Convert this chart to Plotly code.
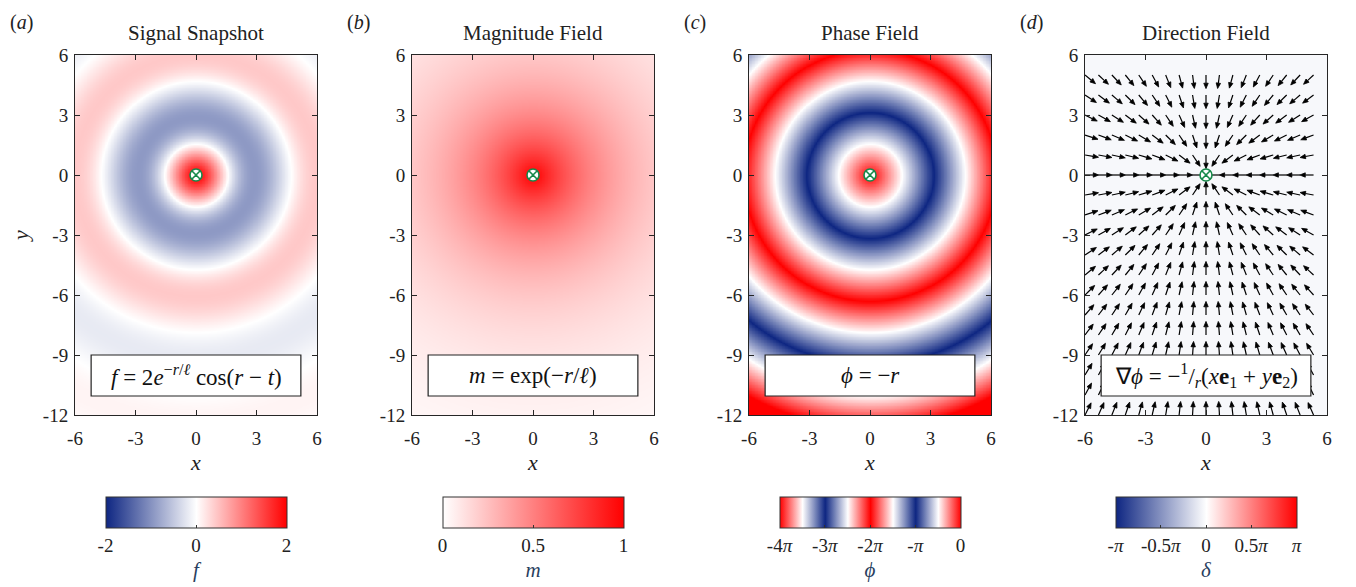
import numpy as np
import plotly.graph_objects as go

# ---------------- data / parameters ----------------
ell = 4.0          # decay length
t_now = 0.0        # snapshot time
amp = 2.0          # signal amplitude
x_grid = np.linspace(-6, 6, 161)
y_grid = np.linspace(-12, 6, 241)
quiver_x = -6 + (2 / 3) * np.arange(18)
quiver_y = -12 + 1.0 * np.arange(18)
delta_level = -0.1   # near-zero direction residual (rad)
panel_titles = ["Signal Snapshot", "Magnitude Field", "Phase Field", "Direction Field"]
panel_tags = ["a", "b", "c", "d"]
equations = [
    "<i>f</i> = 2<i>e</i><sup>−<i>r</i>/<i>ℓ</i></sup> cos(<i>r</i> − <i>t</i>)",
    "<i>m</i> = exp(−<i>r</i>/<i>ℓ</i>)",
    "<i>ϕ</i> = −<i>r</i>",
    "∇<i>ϕ</i> = −<sup>1</sup>/<sub><i>r</i></sub>(<i>x</i><b>e</b><sub>1</sub> + <i>y</i><b>e</b><sub>2</sub>)",
]
cb_titles = ["<i>f</i>", "<i>m</i>", "<i>ϕ</i>", "<i>δ</i>"]
xticks = [-6, -3, 0, 3, 6]
yticks = [-12, -9, -6, -3, 0, 3, 6]

# ---------------- fields ----------------
X, Y = np.meshgrid(x_grid, y_grid)
R = np.hypot(X, Y)
f_field = amp * np.exp(-R / ell) * np.cos(R - t_now)
m_field = np.exp(-R / ell)
phi_field = -R
delta_field = np.full((3, 3), delta_level)

# ---------------- styling ----------------
W, H = 1356, 587
OFF = 8                      # page body margin
Wc, Hc = W - OFF, H - OFF
FONT = "Liberation Serif"
BLUE = np.array([14, 38, 130])
WHITE = np.array([255, 255, 255])
RED = np.array([255, 0, 0])


def bwr(s):
    s = float(np.clip(s, 0, 1))
    if s < 0.5:
        c = BLUE + (WHITE - BLUE) * (s / 0.5)
    else:
        c = WHITE + (RED - WHITE) * ((s - 0.5) / 0.5)
    return "rgb(%d,%d,%d)" % tuple(np.round(c).astype(int))


bwr_scale = [[0, bwr(0)], [0.5, bwr(0.5)], [1, bwr(1)]]
wr_scale = [[0, "rgb(255,255,255)"], [1, "rgb(255,0,0)"]]
phase_scale = []
for s in np.linspace(0, 1, 161):
    ph = -4 * np.pi + s * 4 * np.pi
    m = np.mod(ph, 2 * np.pi)
    d = min(m, 2 * np.pi - m)
    phase_scale.append([float(s), bwr(1 - d / np.pi)])

axes_px = [(75, 317), (412, 654), (749, 991), (1085, 1327)]
top_px, bot_px = 55, 415


def px_x(p):
    return (p - OFF) / Wc


def px_y(p):
    return 1 - (p - OFF) / Hc


fig = go.Figure()

cb_common = dict(
    orientation="h", lenmode="pixels", len=181, thicknessmode="pixels", thickness=31,
    xanchor="center", yanchor="top", y=px_y(497), xpad=0, ypad=0,
    outlinewidth=1, outlinecolor="#333333",
    ticks="inside", ticklen=3, tickcolor="#333333",
    tickfont=dict(family=FONT, size=19, color="#222222"),
)

fields = [f_field, m_field, phi_field]
scales = [bwr_scale, wr_scale, phase_scale]
zr = [(-2, 2), (0, 1), (-4 * np.pi, 0)]
cb_tickvals = [[-2, 0, 2], [0, 0.5, 1], [-4 * np.pi, -3 * np.pi, -2 * np.pi, -np.pi, 0],
               [-np.pi, -0.5 * np.pi, 0, 0.5 * np.pi, np.pi]]
cb_ticktext = [["-2", "0", "2"], ["0", "0.5", "1"],
               ["-4<i>π</i>", "-3<i>π</i>", "-2<i>π</i>", "-<i>π</i>", "0"],
               ["-<i>π</i>", "-0.5<i>π</i>", "0", "0.5<i>π</i>", "<i>π</i>"]]

for i in range(4):
    xa = "x" if i == 0 else f"x{i+1}"
    ya = "y" if i == 0 else f"y{i+1}"
    cx = (axes_px[i][0] + axes_px[i][1]) / 2
    cb = dict(cb_common, x=px_x(cx), tickvals=cb_tickvals[i], ticktext=cb_ticktext[i],
              title=dict(text=cb_titles[i], side="bottom", font=dict(family=FONT, size=21)))
    if i < 3:
        fig.add_trace(go.Heatmap(x=x_grid, y=y_grid, z=fields[i], colorscale=scales[i],
                                 zmin=zr[i][0], zmax=zr[i][1], zsmooth="best",
                                 colorbar=cb, xaxis=xa, yaxis=ya, hoverinfo="skip"))
    else:
        fig.add_trace(go.Heatmap(x=[-6, 0, 6], y=[-12, -3, 6], z=delta_field,
                                 colorscale=bwr_scale, zmin=-np.pi, zmax=np.pi,
                                 colorbar=cb, xaxis=xa, yaxis=ya, hoverinfo="skip"))

# ---------------- quiver (panel d) ----------------
QX, QY = np.meshgrid(quiver_x, quiver_y)
QX, QY = QX.ravel(), QY.ravel()
QR = np.hypot(QX, QY)
mask = QR > 1e-9
QX, QY, QR = QX[mask], QY[mask], QR[mask]
U, V = -QX / QR, -QY / QR
L = 0.68
hl, hw = 0.27, 0.11
shaft_x, shaft_y, head_x, head_y = [], [], [], []
for x0, y0, u, v in zip(QX, QY, U, V):
    x1, y1 = x0 + u * L, y0 + v * L
    bx, by = x1 - u * hl, y1 - v * hl
    shaft_x += [x0, bx, None]
    shaft_y += [y0, by, None]
    px_, py_ = -v, u
    head_x += [x1, bx + px_ * hw, bx - px_ * hw, x1, None]
    head_y += [y1, by + py_ * hw, by - py_ * hw, y1, None]
fig.add_trace(go.Scatter(x=shaft_x, y=shaft_y, mode="lines", line=dict(color="black", width=1.2),
                         xaxis="x4", yaxis="y4", showlegend=False, hoverinfo="skip"))
fig.add_trace(go.Scatter(x=head_x, y=head_y, mode="lines", fill="toself", fillcolor="black",
                         line=dict(color="black", width=0.8),
                         xaxis="x4", yaxis="y4", showlegend=False, hoverinfo="skip"))

# ---------------- source markers ----------------
for i in range(4):
    xa = "x" if i == 0 else f"x{i+1}"
    ya = "y" if i == 0 else f"y{i+1}"
    fig.add_trace(go.Scatter(x=[0], y=[0], mode="markers", xaxis=xa, yaxis=ya, showlegend=False,
                             marker=dict(symbol="circle-x", size=12, color="white",
                                         line=dict(color="#16894a", width=1.6)),
                             hoverinfo="skip"))

# ---------------- axes ----------------
axis_common = dict(showgrid=False, zeroline=False, showline=True, linecolor="#262626", linewidth=1,
                   mirror="ticks", ticks="inside", ticklen=5, tickcolor="#262626", automargin=False,
                   tickfont=dict(family=FONT, size=19, color="#222222"))
layout = dict(width=Wc, height=Hc, margin=dict(l=0, r=0, t=0, b=0, autoexpand=False),
              paper_bgcolor="white", plot_bgcolor="white", showlegend=False)
annotations = []
shapes = []
for i in range(4):
    sfx = "" if i == 0 else str(i + 1)
    a0, a1 = axes_px[i]
    layout["xaxis" + sfx] = dict(axis_common, domain=[px_x(a0), px_x(a1)], range=[-6, 6],
                                 tickvals=xticks, ticktext=[str(v) for v in xticks],
                                 anchor="y" + sfx, ticklabelstandoff=6,
                                 title=dict(text="<i>x</i>", standoff=6,
                                            font=dict(family=FONT, size=22, color="#222222")))
    layout["yaxis" + sfx] = dict(axis_common, domain=[px_y(bot_px), px_y(top_px)], range=[-12, 6],
                                 tickvals=yticks, ticktext=[str(v) for v in yticks],
                                 anchor="x" + sfx, ticklabelstandoff=2)
    cx = (a0 + a1) / 2
    annotations.append(dict(text=panel_titles[i], x=px_x(cx), y=px_y(33), xref="paper", yref="paper",
                            showarrow=False, xanchor="center", yanchor="middle",
                            font=dict(family=FONT, size=21, color="#222222")))
    annotations.append(dict(text="(<i>" + panel_tags[i] + "</i>)", x=px_x(a0 - 54), y=px_y(9),
                            xref="paper", yref="paper", showarrow=False, xanchor="center",
                            yanchor="top", font=dict(family=FONT, size=20, color="#222222")))
    xr = "x" + sfx
    yr = "y" + sfx
    shapes.append(dict(type="rect", xref=xr, yref=yr, x0=-5.2, x1=5.2, y0=-11.05, y1=-9.0,
                       fillcolor="white", line=dict(color="#222222", width=1.2), layer="above"))
    annotations.append(dict(text=equations[i], x=0, y=-10.02, xref=xr, yref=yr, showarrow=False,
                            xanchor="center", yanchor="middle",
                            font=dict(family=FONT, size=23, color="#111111")))

layout["yaxis"]["title"] = dict(text="<i>y</i>", standoff=18,
                                font=dict(family=FONT, size=22, color="#222222"))
layout["annotations"] = annotations
layout["shapes"] = shapes
fig.update_layout(**layout)

fig.write_html("out.html")
